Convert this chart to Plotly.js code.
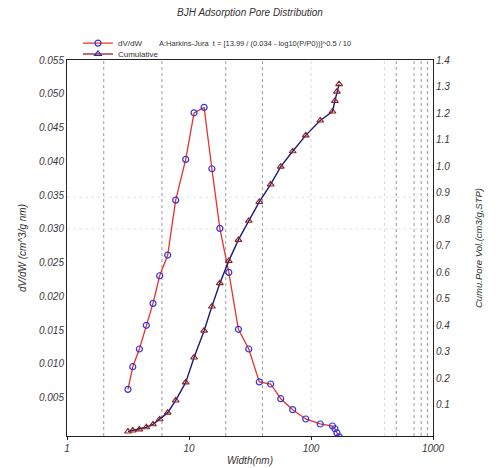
<!DOCTYPE html>
<html>
<head>
<meta charset="utf-8">
<script src="https://cdn.plot.ly/plotly-3.0.1.min.js"></script>
<style>html,body{margin:0;padding:0;background:#fff;}#chart{width:497px;height:468px;}</style>
</head>
<body>
<div id="chart"></div>
<script>
// Pore widths (nm)
const widths = [3.16, 3.46, 3.92, 4.47, 5.07, 5.75, 6.69, 7.78, 9.40, 11.0, 13.3, 15.4, 17.9, 21.2, 25.4, 30.9, 37.7, 46.7, 56.5, 70.8, 90.5, 119, 150, 157, 163, 170];
// dV/dW (cm^3/g nm)
const dvdw = [0.00624, 0.00959, 0.01221, 0.01572, 0.01897, 0.02306, 0.02612, 0.03426, 0.04029, 0.04718, 0.04798, 0.0389, 0.03007, 0.02356, 0.01513, 0.01221, 0.00733, 0.00703, 0.00485, 0.00323, 0.00185, 0.00111, 0.00081, 0.00040, -0.00020, -0.00080];
// Cumulative pore volume (cm3/g, STP)
const cumulative = [0.000, 0.004, 0.008, 0.016, 0.027, 0.046, 0.071, 0.117, 0.185, 0.279, 0.380, 0.471, 0.559, 0.643, 0.722, 0.794, 0.865, 0.931, 0.998, 1.056, 1.116, 1.172, 1.206, 1.246, 1.281, 1.309];

const xTicks = [1, 10, 100, 1000];
const xTickText = ['1', '10', '100', '1000'];
const yTicks = [0.005, 0.010, 0.015, 0.020, 0.025, 0.030, 0.035, 0.040, 0.045, 0.050, 0.055];
const y2Ticks = [0.1, 0.2, 0.3, 0.4, 0.5, 0.6, 0.7, 0.8, 0.9, 1.0, 1.1, 1.2, 1.3, 1.4];

// grid line positions
const darkGridX = [2, 6, 20, 40, 500, 700, 800, 900];
const lightGridX = [100, 400];
const lightGridY = [0.030, 0.0347];

const FONT = 'Liberation Sans, Arial, sans-serif';
const tickFont = {family: FONT, size: 10, color: '#3a3a3a', style: 'italic'};

const traces = [
  {
    x: widths, y: dvdw, name: 'dV/dW', type: 'scatter', mode: 'lines+markers',
    line: {color: '#e8322c', width: 1.3},
    marker: {symbol: 'circle-open', size: 6, color: '#3434d4', line: {width: 1.2, color: '#3434d4'}},
    xaxis: 'x', yaxis: 'y', legend: 'legend'
  },
  {
    x: widths, y: cumulative, name: 'Cumulative', type: 'scatter', mode: 'lines+markers',
    line: {color: '#1c1c7c', width: 1.4},
    marker: {symbol: 'triangle-up-open', size: 6, color: '#8b2222', line: {width: 1.1, color: '#8b2222'}},
    xaxis: 'x', yaxis: 'y2', showlegend: false
  },
  {
    x: [null], y: [null], name: 'Cumulative', type: 'scatter', mode: 'lines+markers',
    line: {color: '#a04040', width: 1.3},
    marker: {symbol: 'triangle-up-open', size: 6, color: '#2a2a9a', line: {width: 1.1, color: '#2a2a9a'}},
    xaxis: 'x', yaxis: 'y2', legend: 'legend2'
  }
];

const shapes = [];
darkGridX.forEach(v => shapes.push({type: 'line', xref: 'x', yref: 'paper', x0: v, x1: v, y0: 0, y1: 1, layer: 'below', line: {color: '#9a9a9a', width: 1, dash: '3px,3px'}}));
lightGridX.forEach(v => shapes.push({type: 'line', xref: 'x', yref: 'paper', x0: v, x1: v, y0: 0, y1: 1, layer: 'below', line: {color: '#dadada', width: 1, dash: '3px,3px'}}));
lightGridY.forEach(v => shapes.push({type: 'line', xref: 'paper', yref: 'y', x0: 0, x1: 1, y0: v, y1: v, layer: 'below', line: {color: '#e2e2e2', width: 1, dash: '3px,3px'}}));

const legendFont = {family: FONT, size: 8, color: '#333'};
const layout = {
  width: 497, height: 468,
  margin: {l: 67, r: 64, t: 60, b: 32},
  paper_bgcolor: '#fff', plot_bgcolor: '#fff',
  title: {text: 'BJH Adsorption Pore Distribution', x: 0.5, xref: 'paper', y: 0.973, yref: 'container', yanchor: 'middle',
          font: {family: FONT, size: 10, color: '#333', style: 'italic'}},
  xaxis: {
    type: 'log', range: [0, 3], tickvals: xTicks, ticktext: xTickText,
    showgrid: false, zeroline: false, showline: true, mirror: true, linecolor: '#222', linewidth: 1,
    ticks: 'outside', ticklen: 3, tickcolor: '#222', tickfont: tickFont,
    title: {text: 'Width(nm)', font: {family: FONT, size: 10, color: '#333', style: 'italic'}, standoff: 3}
  },
  yaxis: {
    range: [-0.00067, 0.055], tickvals: yTicks, tickformat: '.3f',
    showgrid: false, zeroline: false, showline: true, linecolor: '#222', linewidth: 1,
    ticks: '', tickfont: tickFont,
    title: {text: 'dV/dW (cm^3/g nm)', font: {family: FONT, size: 10, color: '#333', style: 'italic'}, standoff: 10}
  },
  yaxis2: {
    overlaying: 'y', side: 'right', range: [-0.017, 1.4], tickvals: y2Ticks, tickformat: '.1f',
    showgrid: false, zeroline: false, showline: true, linecolor: '#222', linewidth: 1,
    ticks: '', tickfont: tickFont,
    title: {text: 'Cumu.Pore Vol.(cm3/g,STP)', font: {family: FONT, size: 9.5, color: '#333', style: 'italic'}, standoff: 26}
  },
  legend: {x: 0.03, xanchor: 'left', y: 1.045, yanchor: 'middle', bgcolor: 'rgba(0,0,0,0)', font: legendFont, borderwidth: 0},
  legend2: {x: 0.03, xanchor: 'left', y: 1.016, yanchor: 'middle', bgcolor: 'rgba(0,0,0,0)', font: legendFont, borderwidth: 0},
  annotations: [{
    text: 'A:Harkins-Jura  t = [13.99 / (0.034 - log10(P/P0))]^0.5 / 10',
    xref: 'paper', yref: 'paper', x: 0.246, y: 1.045, xanchor: 'left', yanchor: 'middle', showarrow: false,
    font: {family: FONT, size: 7.5, color: '#333'}
  }],
  shapes: shapes,
  showlegend: true
};

Plotly.newPlot('chart', traces, layout, {displayModeBar: false, staticPlot: true});
</script>
</body>
</html>
